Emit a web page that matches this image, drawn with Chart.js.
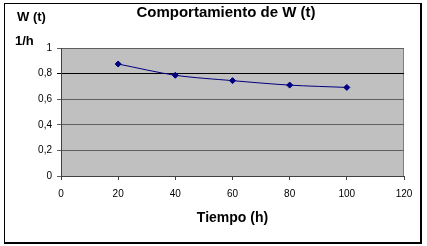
<!DOCTYPE html>
<html>
<head>
<meta charset="utf-8">
<script src="https://cdn.jsdelivr.net/npm/chart.js@4/dist/chart.umd.min.js"></script>
<style>
  html, body { margin: 0; padding: 0; background: #fff; }
  #graph { display: block; }
</style>
</head>
<body>
<canvas id="graph" width="427" height="246"></canvas>
<script>
var tiempo = [20, 40, 60, 80, 100];        // horas
var w = [0.875, 0.787, 0.745, 0.71, 0.692]; // W (t), 1/h
var yTicks = ['0', '0,2', '0,4', '0,6', '0,8', '1'];

var fontName = '"Liberation Sans", Arial, sans-serif';

// fondo gris del area y marco exterior
var decor = {
  id: 'decor',
  beforeDraw: function(chart) {
    var ctx = chart.ctx, a = chart.chartArea;
    ctx.save();
    ctx.fillStyle = '#fff';
    ctx.fillRect(0, 0, chart.width, chart.height);
    ctx.fillStyle = '#c0c0c0';
    ctx.fillRect(a.left, a.top, a.right - a.left, a.bottom - a.top);
    ctx.strokeStyle = '#808080';
    ctx.lineWidth = 1;
    ctx.strokeRect(a.left + 0.5, a.top + 0.5, a.right - a.left - 1, a.bottom - a.top);
    ctx.restore();
  },
  afterDraw: function(chart) {
    var ctx = chart.ctx;
    ctx.save();
    ctx.strokeStyle = '#000';
    ctx.lineWidth = 1;
    ctx.strokeRect(4.5, 3.5, 416, 239);
    ctx.lineWidth = 2;
    ctx.beginPath();
    ctx.moveTo(421, 3); ctx.lineTo(421, 243); ctx.lineTo(4, 243);
    ctx.stroke();
    ctx.fillStyle = '#000';
    ctx.textBaseline = 'middle';
    ctx.textAlign = 'center';
    ctx.font = 'bold 15px ' + fontName;
    ctx.fillText('Comportamiento de W (t)', 226, 13);
    ctx.textAlign = 'left';
    ctx.font = 'bold 13px ' + fontName;
    ctx.fillText('W (t)', 17, 17);
    ctx.fillText('1/h', 15, 41);
    ctx.restore();
  }
};

var data = {
  datasets: [{
    label: 'W (t)',
    data: tiempo.map(function(t, i) { return { x: t, y: w[i] }; }),
    borderColor: '#000080',
    backgroundColor: '#000080',
    borderWidth: 1,
    tension: 0.3,
    pointStyle: 'rectRot',
    pointRadius: 3,
    pointHoverRadius: 3
  }]
};

var config = {
  type: 'line',
  data: data,
  plugins: [decor],
  options: {
    responsive: false,
    animation: false,
    layout: { padding: { top: 48, right: 23, left: 0, bottom: 0 } },
    plugins: {
      legend: { display: false },
      tooltip: { enabled: false }
    },
    scales: {
      x: {
        type: 'linear',
        min: 0, max: 120,
        afterFit: function(s) { s.height = 70; },
        ticks: {
          stepSize: 20, color: '#000', padding: 8,
          font: { family: fontName, size: 10 }
        },
        grid: { drawOnChartArea: false, tickLength: 4, color: '#404040' },
        border: { color: '#404040', width: 1 },
        title: {
          display: true, text: 'Tiempo (h)', color: '#000',
          font: { family: fontName, size: 14, weight: 'bold' },
          padding: { top: 0, bottom: 19 }
        }
      },
      y: {
        min: 0, max: 1,
        afterFit: function(s) { s.width = 61; },
        ticks: {
          stepSize: 0.2, color: '#000', padding: 5,
          font: { family: fontName, size: 10 },
          callback: function(v, i) { return yTicks[i]; }
        },
        grid: {
          tickLength: 4,
          color: function(c) { return c.tick && Math.abs(c.tick.value - 0.8) < 1e-6 ? '#000' : '#606060'; }
        },
        border: { color: '#404040', width: 1 }
      }
    }
  }
};

var graph = new Chart(document.getElementById('graph'), config);
</script>
</body>
</html>
